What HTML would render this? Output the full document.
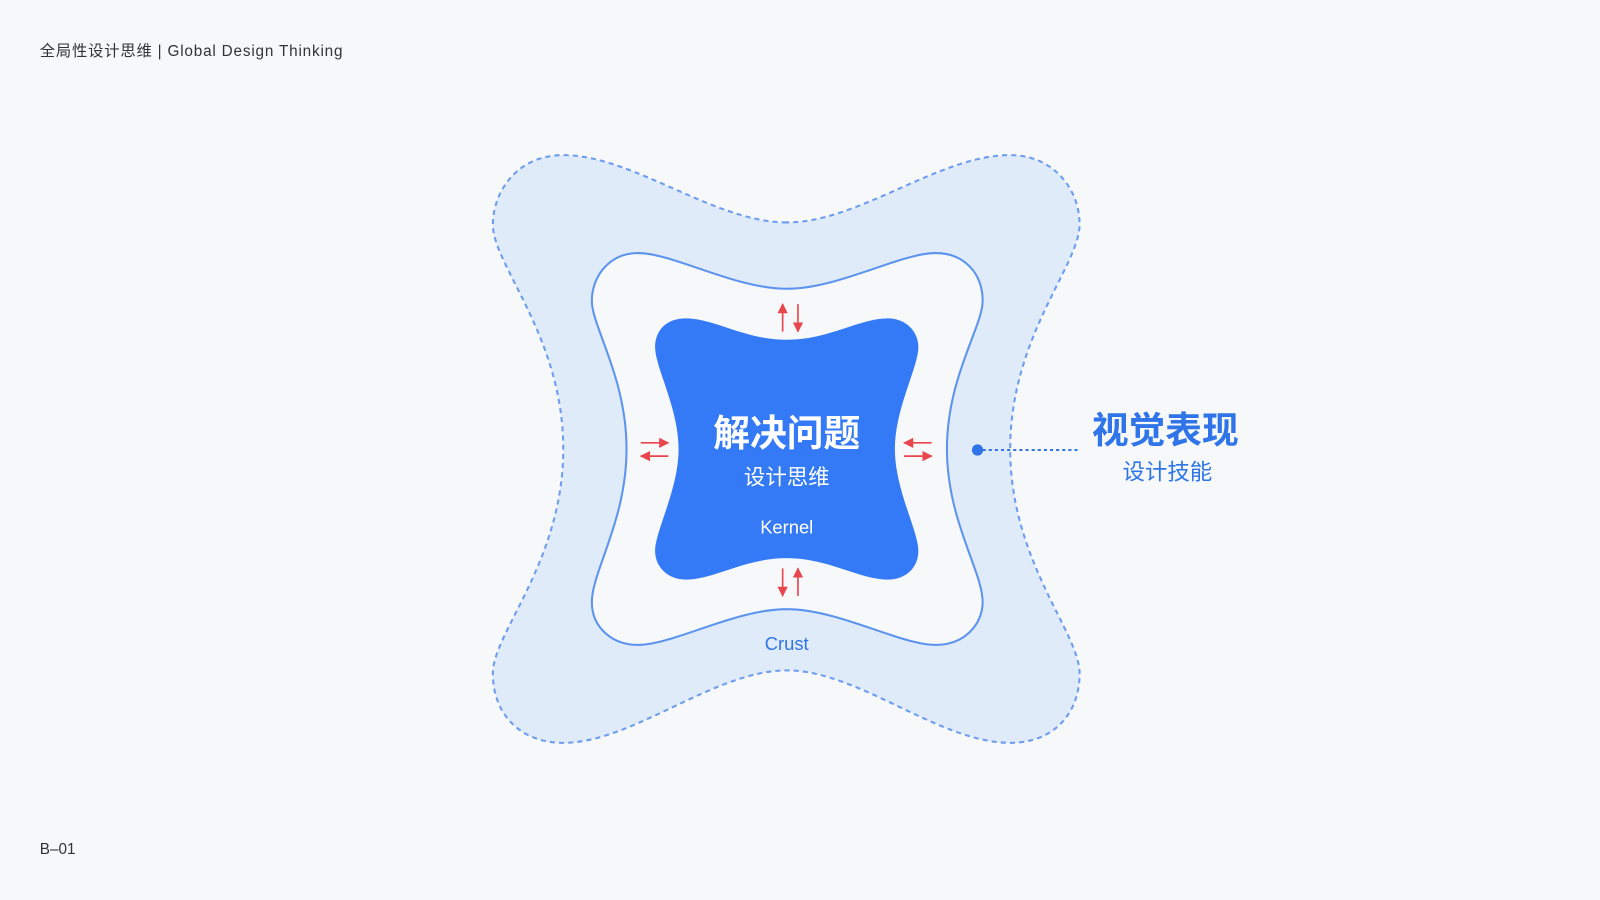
<!DOCTYPE html>
<html><head><meta charset="utf-8"><style>
html,body{margin:0;padding:0;background:#f6f8fa;}
svg{display:block}
text{font-family:"Liberation Sans","Noto Sans CJK SC",sans-serif;}
</style></head><body>
<svg width="1600" height="900" viewBox="0 0 1568 882" xmlns="http://www.w3.org/2000/svg">
<defs>
<marker id="ah" viewBox="0 0 10 10" refX="9" refY="5" markerWidth="10" markerHeight="10" markerUnits="userSpaceOnUse" orient="auto">
<path d="M0,0 L10,5 L0,10 Z" fill="#e9454d"/></marker>
</defs>
<rect width="1568" height="882" fill="#f6f8fa"/>
<text x="39" y="55" font-size="15" fill="#333" letter-spacing="0.8">全局性设计思维 | Global Design Thinking</text>
<text x="39" y="837" font-size="15" fill="#333">B–01</text>
<path d="M 771 218 C 700 218, 620 152, 552 152 C 505 152, 483 190, 483 220 C 483 260, 552 330, 552 440 C 552 550, 483 620, 483 660 C 483 700, 510 728, 552 728 C 620 728, 700 657, 771 657 C 842 657, 920 728, 990 728 C 1032 728, 1058 700, 1058 660 C 1058 620, 990 550, 990 440 C 990 330, 1058 260, 1058 220 C 1058 185, 1032 152, 990 152 C 920 152, 842 218, 771 218 Z" fill="#e0ebfa" stroke="#6b9cf0" stroke-width="2" stroke-dasharray="5 4"/>
<path d="M 771 283 C 720 283, 660 248, 625 248 C 598 248, 580 270, 580 295 C 580 320, 614 370, 614 440 C 614 510, 580 560, 580 590 C 580 615, 600 632, 625 632 C 660 632, 720 597, 771 597 C 822 597, 882 632, 917 632 C 945 632, 963 612, 963 590 C 963 560, 928 510, 928 440 C 928 370, 963 320, 963 295 C 963 268, 945 248, 917 248 C 882 248, 822 283, 771 283 Z" fill="#f6f8fa" stroke="#5b93ee" stroke-width="2"/>
<path d="M 771 333 C 730 333, 700 312, 672 312 C 652 312, 642 325, 642 340 C 642 360, 665 400, 665 440 C 665 480, 642 520, 642 540 C 642 556, 655 568, 672 568 C 700 568, 730 547, 771 547 C 812 547, 842 568, 870 568 C 888 568, 900 556, 900 540 C 900 520, 877 480, 877 440 C 877 400, 900 360, 900 340 C 900 325, 888 312, 870 312 C 842 312, 812 333, 771 333 Z" fill="#347af6"/>
<g stroke="#e9454d" stroke-width="1.6" marker-end="url(#ah)">
<line x1="767" y1="325" x2="767" y2="298"/>
<line x1="782" y1="298" x2="782" y2="325"/>
<line x1="767" y1="557" x2="767" y2="584"/>
<line x1="782" y1="584" x2="782" y2="557"/>
<line x1="628" y1="434" x2="655" y2="434"/>
<line x1="655" y1="447" x2="628" y2="447"/>
<line x1="913" y1="434" x2="886" y2="434"/>
<line x1="886" y1="447" x2="913" y2="447"/>
</g>
<text x="771" y="437" font-size="36" font-weight="bold" fill="#fff" text-anchor="middle">解决问题</text>
<text x="771" y="475" font-size="21" fill="#fff" text-anchor="middle">设计思维</text>
<text x="771" y="523" font-size="18" fill="#fff" text-anchor="middle">Kernel</text>
<text x="771" y="637" font-size="18" fill="#2f74e8" text-anchor="middle">Crust</text>
<circle cx="958" cy="441" r="5.5" fill="#2f74e8"/>
<line x1="963" y1="441" x2="1057" y2="441" stroke="#2f74e8" stroke-width="2" stroke-dasharray="3 3"/>
<text x="1142" y="434" font-size="36" font-weight="bold" fill="#2f74e8" text-anchor="middle">视觉表现</text>
<text x="1144" y="470" font-size="22" fill="#2f74e8" text-anchor="middle">设计技能</text>
</svg>
</body></html>
